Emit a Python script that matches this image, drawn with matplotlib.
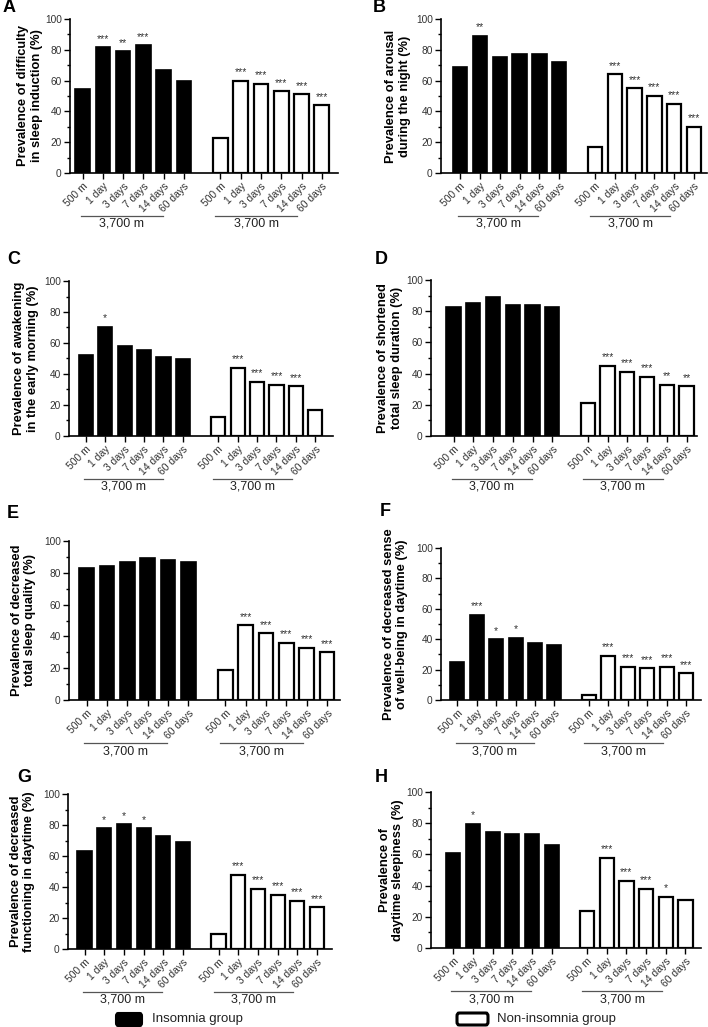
import numpy as np
import matplotlib
matplotlib.use('Agg')
import matplotlib.pyplot as plt
from matplotlib.lines import Line2D
from matplotlib.patches import FancyBboxPatch
from matplotlib.transforms import ScaledTranslation

plt.rcParams['font.family'] = ['Liberation Sans', 'DejaVu Sans']

# tick labels shared by both groups
timepoints = ['500 m', '1 day', '3 days', '7 days', '14 days', '60 days']
panel_letters = ['A', 'B', 'C', 'D', 'E', 'F', 'G', 'H']

ylabels = [
    'Prevalence of difficulty\nin sleep induction (%)',
    'Prevalence of arousal\nduring the night (%)',
    'Prevalence of awakening\nin the early morning (%)',
    'Prevalence of shortened\ntotal sleep duration (%)',
    'Prevalence of decreased\ntotal sleep quality (%)',
    'Prevalence of decreased sense\nof well-being in daytime (%)',
    'Prevalence of decreased\nfunctioning in daytime (%)',
    'Prevalence of\ndaytime sleepiness (%)',
]

# prevalence (%)
insomnia = [
    [54.5, 81.5, 79, 83, 67, 59.5],
    [69, 89, 75.5, 77, 77, 72],
    [52, 70.5, 58, 55.5, 51, 49.5],
    [83, 85.5, 89, 84, 84, 83],
    [83, 84, 87, 89, 88, 87],
    [25, 56, 40, 41, 37.5, 36],
    [63, 78, 80.5, 78, 73, 69],
    [61, 79.5, 74.5, 73, 73, 66],
]
non_insomnia = [
    [23, 60, 58, 53, 51, 44],
    [17, 64, 55, 50, 45, 30],
    [12, 44, 35, 33, 32, 17],
    [21, 45, 41, 38, 33, 32],
    [19, 47, 42, 36, 33, 30],
    [3, 29, 22, 21, 22, 17.5],
    [9.5, 48, 39, 35, 31, 27],
    [24, 58, 43, 38, 33, 30.5],
]

# significance marks
stars_ins = [
    ['', '***', '**', '***', '', ''],
    ['', '**', '', '', '', ''],
    ['', '*', '', '', '', ''],
    ['', '', '', '', '', ''],
    ['', '', '', '', '', ''],
    ['', '***', '*', '*', '', ''],
    ['', '*', '*', '*', '', ''],
    ['', '*', '', '', '', ''],
]
stars_non = [
    ['', '***', '***', '***', '***', '***'],
    ['', '***', '***', '***', '***', '***'],
    ['', '***', '***', '***', '***', ''],
    ['', '***', '***', '***', '**', '**'],
    ['', '***', '***', '***', '***', '***'],
    ['', '***', '***', '***', '***', '***'],
    ['', '***', '***', '***', '***', '***'],
    ['', '***', '***', '***', '*', ''],
]

W, H = 708, 1027
# axes box in pixels: left, right, top (y=100), bottom (y=0)
boxes = [
    (70, 338, 19, 173), (441, 707, 19, 173),
    (69, 333, 281, 436), (431, 697, 280, 436),
    (69, 340, 541, 700), (441, 701, 548, 700),
    (68, 332, 794, 949), (431, 701, 792, 948),
]
xlims = [(-0.62, 12.6), (-0.96, 12.45), (-0.85, 12.7), (-1.14, 12.33),
         (-0.86, 12.43), (-0.85, 12.58), (-0.84, 12.56), (-1.14, 12.59)]
ylabel_x = [30, 398, 26, 390, 23.5, 395.5, 22.5, 391.5]
letter_xy = [(9, 8), (379, 8), (14, 260), (381, 260),
             (13, 514), (385, 512), (24, 777), (381, 777)]

fig = plt.figure(figsize=(W / 100, H / 100), dpi=100)

x_ins = np.arange(6)
x_non = np.arange(6) + 6.8
bw = 0.72

for i in range(8):
    L, R, T, B = boxes[i]
    ax = fig.add_axes([L / W, 1 - B / H, (R - L) / W, (B - T) / H])
    ax.bar(x_ins, insomnia[i], width=bw, color='black', edgecolor='black', linewidth=1.2)
    ax.bar(x_non, non_insomnia[i], width=bw, color='white', edgecolor='black', linewidth=1.6)
    for xs, vals, st in [(x_ins, insomnia[i], stars_ins[i]), (x_non, non_insomnia[i], stars_non[i])]:
        for x, v, s in zip(xs, vals, st):
            if s:
                ax.annotate(s, (x, v), xytext=(0, 2.5), textcoords='offset points',
                            ha='center', va='bottom', fontsize=7.5, color='#333333',
                            annotation_clip=False)
    ax.set_xlim(*xlims[i])
    ax.set_ylim(0, 100)
    ax.set_yticks(np.arange(0, 101, 20))
    ax.set_yticks(np.arange(10, 100, 20), minor=True)
    ax.set_xticks(np.concatenate([x_ins, x_non]))
    ax.set_xticklabels(timepoints + timepoints, rotation=45, ha='right',
                       rotation_mode='anchor', fontsize=7.5, color='#333333')
    ax.tick_params(axis='y', labelsize=7.3, labelcolor='#333333', length=4, width=1, pad=2)
    ax.tick_params(axis='y', which='minor', length=2.5, width=1)
    ax.tick_params(axis='x', length=4, width=1, pad=2)
    for sp in ['top', 'right']:
        ax.spines[sp].set_visible(False)
    for sp in ['left', 'bottom']:
        ax.spines[sp].set_linewidth(1.2)

    # group brackets under the tick labels
    tr_line = ax.get_xaxis_transform() + ScaledTranslation(0, -43 / 100, fig.dpi_scale_trans)
    tr_text = ax.get_xaxis_transform() + ScaledTranslation(0, -51 / 100, fig.dpi_scale_trans)
    for x0, x1 in [(-0.1, 3.95), (6.55, 10.6)]:
        ax.add_line(Line2D([x0, x1], [0, 0], transform=tr_line, color='#555555',
                           linewidth=0.9, clip_on=False))
        ax.text((x0 + x1) / 2, 0, '3,700 m', transform=tr_text, ha='center',
                va='center', fontsize=9, color='#222222', clip_on=False)

    fig.text(ylabel_x[i] / W, 1 - (T + B) / 2 / H, ylabels[i], rotation=90,
             ha='center', va='center', multialignment='center',
             fontsize=9.3, fontweight='bold')
    lx, ly = letter_xy[i]
    fig.text(lx / W, 1 - ly / H, panel_letters[i], ha='center', va='center',
             fontsize=13, fontweight='bold')

# legend at the bottom
fig.patches.append(FancyBboxPatch((116 / W, 1 - 1026 / H), 26 / W, 13 / H,
                                  boxstyle='round,pad=0,rounding_size=0.003',
                                  transform=fig.transFigure, facecolor='black',
                                  edgecolor='black', linewidth=1.5))
fig.text(152 / W, 1 - 1019 / H, 'Insomnia group', ha='left', va='center', fontsize=9.5,
         color='#222222')
fig.patches.append(FancyBboxPatch((457 / W, 1 - 1025 / H), 31 / W, 12 / H,
                                  boxstyle='round,pad=0,rounding_size=0.003',
                                  transform=fig.transFigure, facecolor='white',
                                  edgecolor='black', linewidth=2.2))
fig.text(497 / W, 1 - 1019 / H, 'Non-insomnia group', ha='left', va='center', fontsize=9.5,
         color='#222222')

fig.savefig('out.png', dpi=100)
